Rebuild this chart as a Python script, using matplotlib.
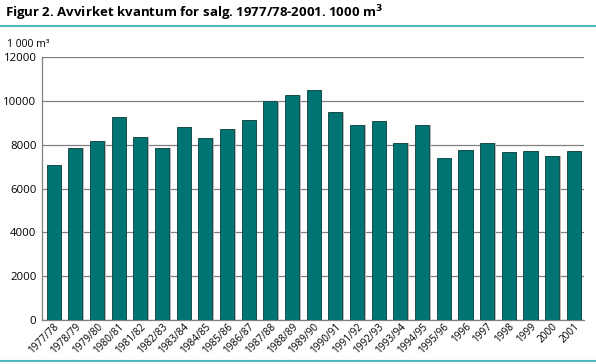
import numpy as np
import matplotlib.pyplot as plt

plt.rcParams["font.family"] = ["Open Sans", "DejaVu Sans"]

# Data
years = ["1977/78", "1978/79", "1979/80", "1980/81", "1981/82", "1982/83",
         "1983/84", "1984/85", "1985/86", "1986/87", "1987/88", "1988/89",
         "1989/90", "1990/91", "1991/92", "1992/93", "1993/94", "1994/95",
         "1995/96", "1996", "1997", "1998", "1999", "2000", "2001"]
volume = [7070, 7830, 8165, 9260, 8360, 7830, 8790, 8330, 8700, 9110,
          9990, 10250, 10520, 9475, 8910, 9065, 8060, 8880, 7390, 7755,
          8060, 7680, 7710, 7480, 7695]

bar_color = "#007473"
rule_color = "#4db8bd"

fig = plt.figure(figsize=(5.96, 3.64), dpi=100)
ax = fig.add_axes([0.0705, 0.121, 0.909, 0.722])

x = np.arange(len(years))
# light grey shadow behind each bar
ax.bar(x + 0.07, volume, width=0.65, color="#b8b8b8", zorder=2)
ax.bar(x, volume, width=0.65, color=bar_color, edgecolor="#0b3f3e",
       linewidth=0.6, zorder=3)

ax.set_xlim(-0.54, len(years) - 0.54)
ax.set_ylim(0, 12000)
ax.set_yticks(range(0, 12001, 2000))
ax.yaxis.grid(True, color="#808080", linewidth=0.9, zorder=0)
ax.set_axisbelow(True)
ax.tick_params(axis="y", length=0, labelsize=8.2, pad=4)
ax.tick_params(axis="x", length=0, pad=1)
ax.set_xticks(x)
ax.set_xticklabels(years, rotation=45, ha="right", rotation_mode="anchor",
                   fontsize=7.2)

for side in ["top", "right"]:
    ax.spines[side].set_visible(False)
for side in ["left", "bottom"]:
    ax.spines[side].set_color("#808080")
    ax.spines[side].set_linewidth(0.9)

fig.text(0.008, 0.963, "Figur 2. Avvirket kvantum for salg. 1977/78-2001. 1000 m$^\\mathbf{3}$",
         fontsize=9.5, fontweight="bold", va="center", ha="left")
fig.text(0.012, 0.877, "1 000 m\u00b3", fontsize=7.5, va="center", ha="left")

# teal rules at top and bottom
fig.add_artist(plt.Line2D([0, 0.998], [0.928, 0.928], color=rule_color,
                          linewidth=1.5, transform=fig.transFigure))
fig.add_artist(plt.Line2D([0, 0.998], [0.008, 0.008], color=rule_color,
                          linewidth=1.5, transform=fig.transFigure))

fig.savefig("out.png", dpi=100)
